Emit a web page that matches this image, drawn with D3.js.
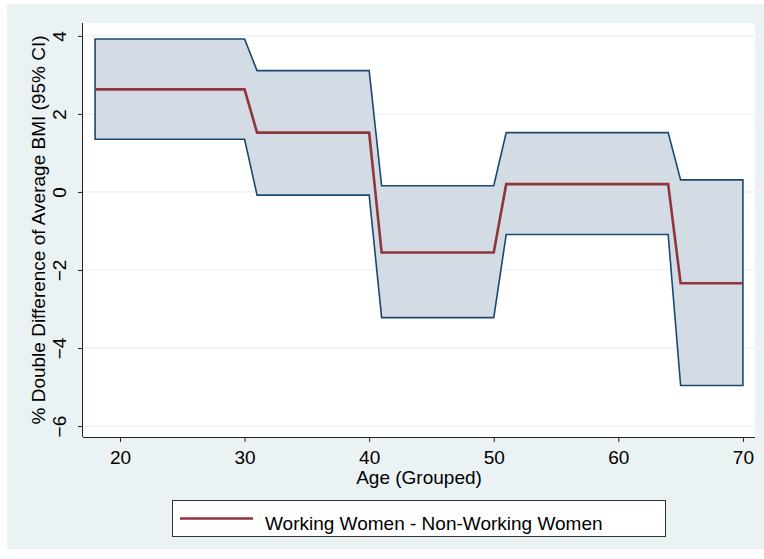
<!DOCTYPE html>
<html>
<head>
<meta charset="utf-8">
<script src="https://cdn.jsdelivr.net/npm/d3@7"></script>
<style>
  html, body { margin: 0; padding: 0; background: #ffffff; }
  svg { display: block; font-family: "Liberation Sans", Arial, sans-serif; }
</style>
</head>
<body>
<svg id="chart" width="764" height="559"></svg>
<script>
// Data
const ages  = [18, 30, 31, 40, 41, 50, 51, 64, 65, 70];
const mean  = [2.63, 2.63, 1.52, 1.52, -1.55, -1.55, 0.20, 0.20, -2.34, -2.34];
const upper = [3.92, 3.92, 3.11, 3.11, 0.16, 0.16, 1.52, 1.52, 0.31, 0.31];
const lower = [1.35, 1.35, -0.08, -0.08, -3.22, -3.22, -1.09, -1.09, -4.96, -4.96];
const xTicks = [20, 30, 40, 50, 60, 70];
const yTicks = [-6, -4, -2, 0, 2, 4];
const legendLabel = "Working Women - Non-Working Women";
const xTitle = "Age (Grouped)";
const yTitle = "% Double Difference of Average BMI (95% CI)";

const FS = 19;
const svg = d3.select("#chart");
const plot = { left: 83, right: 755, top: 23, bottom: 437 };

// outer background
svg.append("rect").attr("x", 7).attr("y", 4).attr("width", 757).attr("height", 545)
  .attr("fill", "#EAF2F3");
// plot area
svg.append("rect").attr("x", plot.left).attr("y", plot.top)
  .attr("width", plot.right - plot.left).attr("height", plot.bottom - plot.top)
  .attr("fill", "#ffffff");

const x = d3.scaleLinear().domain([17.03, 70.97]).range([plot.left, plot.right]);
const y = d3.scaleLinear().domain([-6.28, 4.33]).range([plot.bottom, plot.top]);

// gridlines
svg.append("g").selectAll("line").data(yTicks).join("line")
  .attr("x1", plot.left).attr("x2", plot.right)
  .attr("y1", d => y(d)).attr("y2", d => y(d))
  .attr("stroke", "#EAF2F3").attr("stroke-width", 1.2);

const data = ages.map((a, i) => ({ a, m: mean[i], u: upper[i], l: lower[i] }));

// CI band
svg.append("path").datum(data)
  .attr("d", d3.area().x(d => x(d.a)).y0(d => y(d.l)).y1(d => y(d.u)))
  .attr("fill", "#D3DCE4")
  .attr("stroke", "#1A476F").attr("stroke-width", 1.6).attr("stroke-linejoin", "miter");

// mean line
svg.append("path").datum(data)
  .attr("d", d3.line().x(d => x(d.a)).y(d => y(d.m)))
  .attr("fill", "none").attr("stroke", "#90353B").attr("stroke-width", 2.6);

// axes
const xAxis = d3.axisBottom(x).tickValues(xTicks).tickSize(5).tickPadding(4);
const gx = svg.append("g").attr("transform", `translate(0,${plot.bottom})`).call(xAxis);
gx.select(".domain").attr("d", `M${plot.left},0.5H${plot.right}`).attr("stroke", "#222");
gx.selectAll(".tick line").attr("stroke", "#222");
gx.selectAll(".tick text").attr("font-size", FS).attr("fill", "#000")
  .attr("font-family", "Liberation Sans, Arial, sans-serif")
  .attr("y", 26.5).attr("dy", "0");

const yAxis = d3.axisLeft(y).tickValues(yTicks).tickSize(5).tickPadding(4);
const gy = svg.append("g").attr("transform", `translate(${plot.left},0)`).call(yAxis);
gy.select(".domain").attr("d", `M-0.5,${plot.top}V${plot.bottom}`).attr("stroke", "#222");
gy.selectAll(".tick line").attr("stroke", "#222");
gy.selectAll(".tick text").attr("font-size", FS).attr("fill", "#000")
  .attr("font-family", "Liberation Sans, Arial, sans-serif")
  .attr("transform", "rotate(-90)")
  .attr("x", 0).attr("y", -17).attr("dy", "0")
  .attr("text-anchor", "middle");

// axis titles
svg.append("text").attr("x", (plot.left + plot.right) / 2).attr("y", 484)
  .attr("text-anchor", "middle").attr("font-size", FS).attr("fill", "#000").text(xTitle);
svg.append("text")
  .attr("transform", `translate(45,${(plot.top + plot.bottom) / 2}) rotate(-90)`)
  .attr("text-anchor", "middle").attr("font-size", FS).attr("fill", "#000").text(yTitle);

// legend
svg.append("rect").attr("x", 172.5).attr("y", 500.5).attr("width", 493).attr("height", 36)
  .attr("fill", "#ffffff").attr("stroke", "#333").attr("stroke-width", 1);
svg.append("line").attr("x1", 180).attr("x2", 253).attr("y1", 518.5).attr("y2", 518.5)
  .attr("stroke", "#90353B").attr("stroke-width", 2.6);
svg.append("text").attr("x", 265).attr("y", 530).attr("font-size", FS).attr("fill", "#000")
  .text(legendLabel);
</script>
</body>
</html>
